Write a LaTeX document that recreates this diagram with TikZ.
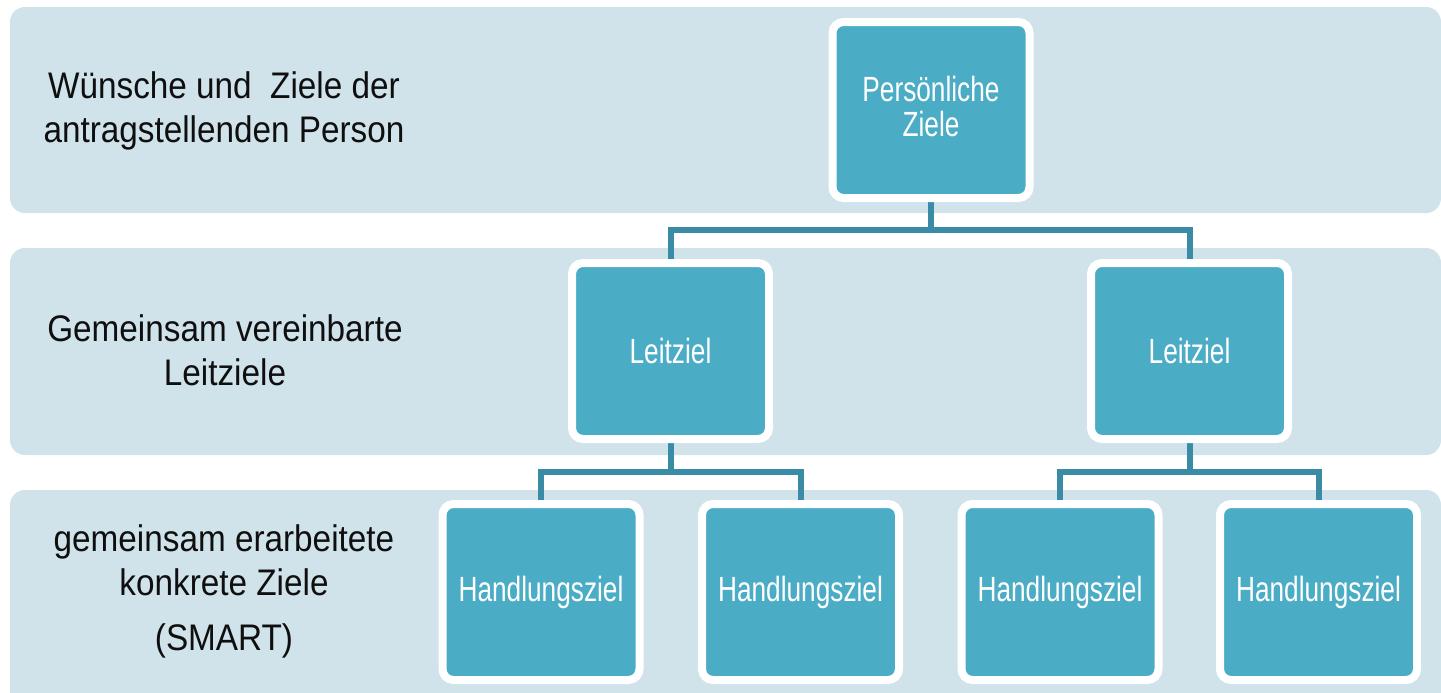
\documentclass[tikz,border=0pt]{standalone}
\usepackage{fontspec}
\setmainfont{Liberation Sans}
\newfontfamily\lblfont[FakeStretch=0.9]{Liberation Sans}
\newfontfamily\boxfont[FakeStretch=0.75]{Liberation Sans}
\usetikzlibrary{shadows,calc}
\definecolor{bandcol}{RGB}{208,226,234}
\definecolor{boxcol}{RGB}{75,172,198}
\definecolor{conncol}{RGB}{58,140,166}
\definecolor{lblcol}{RGB}{15,15,15}
\pgfdeclarelayer{bands}
\pgfdeclarelayer{conns}
\pgfsetlayers{bands,conns,main}
\begin{document}
\begin{tikzpicture}[x=0.5pt,y=-0.5pt,
  band/.style={fill=bandcol, rounded corners=7.5pt},
  goal/.style={draw=white, line width=4pt, fill=boxcol, rounded corners=5.5pt,
    minimum width=98.5pt, minimum height=88pt, inner sep=0pt, align=center,
    font=\boxfont\fontsize{17.5}{17.5}\selectfont, text=white,
    drop shadow={shadow xshift=0.8pt, shadow yshift=-1.5pt, opacity=0.35, fill=black!60}},
  conn/.style={draw=conncol, line width=3pt},
  lbl/.style={align=center, font=\lblfont\fontsize{18.5}{22}\selectfont, text=lblcol, inner sep=0pt, anchor=base}]
\useasboundingbox (0,0) rectangle (1441,692);
\begin{pgfonlayer}{bands}
  \fill[band] (10,7) rectangle (1441,213);
  \fill[band] (10,248) rectangle (1441,455);
  \fill[band] (10,490) rectangle (1441,712);
\end{pgfonlayer}

\node[lbl] (t1) at (224,142) {Wünsche und~ Ziele der\\antragstellenden Person};
\node[lbl] (t2) at (225,385) {Gemeinsam vereinbarte\\Leitziele};
\node[lbl] (t3) at (224,650) {gemeinsam erarbeitete\\konkrete Ziele\\[5.5pt](SMART)};

\node[goal] (top) at (931,110) {Persönliche\\Ziele\\[-13.5pt]};
\node[goal] (l1) at (670.5,351) {Leitziel};
\node[goal] (l2) at (1189.5,351) {Leitziel};
\node[goal] (h1) at (541,592) {Handlungsziel};
\node[goal] (h2) at (800.5,592) {Handlungsziel};
\node[goal] (h3) at (1060,592) {Handlungsziel};
\node[goal] (h4) at (1318.5,592) {Handlungsziel};

\coordinate (m1) at (0,230);
\coordinate (m2) at (0,472);
\begin{pgfonlayer}{conns}
  \draw[conn] (top.south) -- (top.south |- m1) -| (l1.north);
  \draw[conn] (top.south |- m1) -| (l2.north);
  \draw[conn] (l1.south) -- (l1.south |- m2) -| (h1.north);
  \draw[conn] (l1.south |- m2) -| (h2.north);
  \draw[conn] (l2.south) -- (l2.south |- m2) -| (h3.north);
  \draw[conn] (l2.south |- m2) -| (h4.north);
\end{pgfonlayer}
\end{tikzpicture}
\end{document}
